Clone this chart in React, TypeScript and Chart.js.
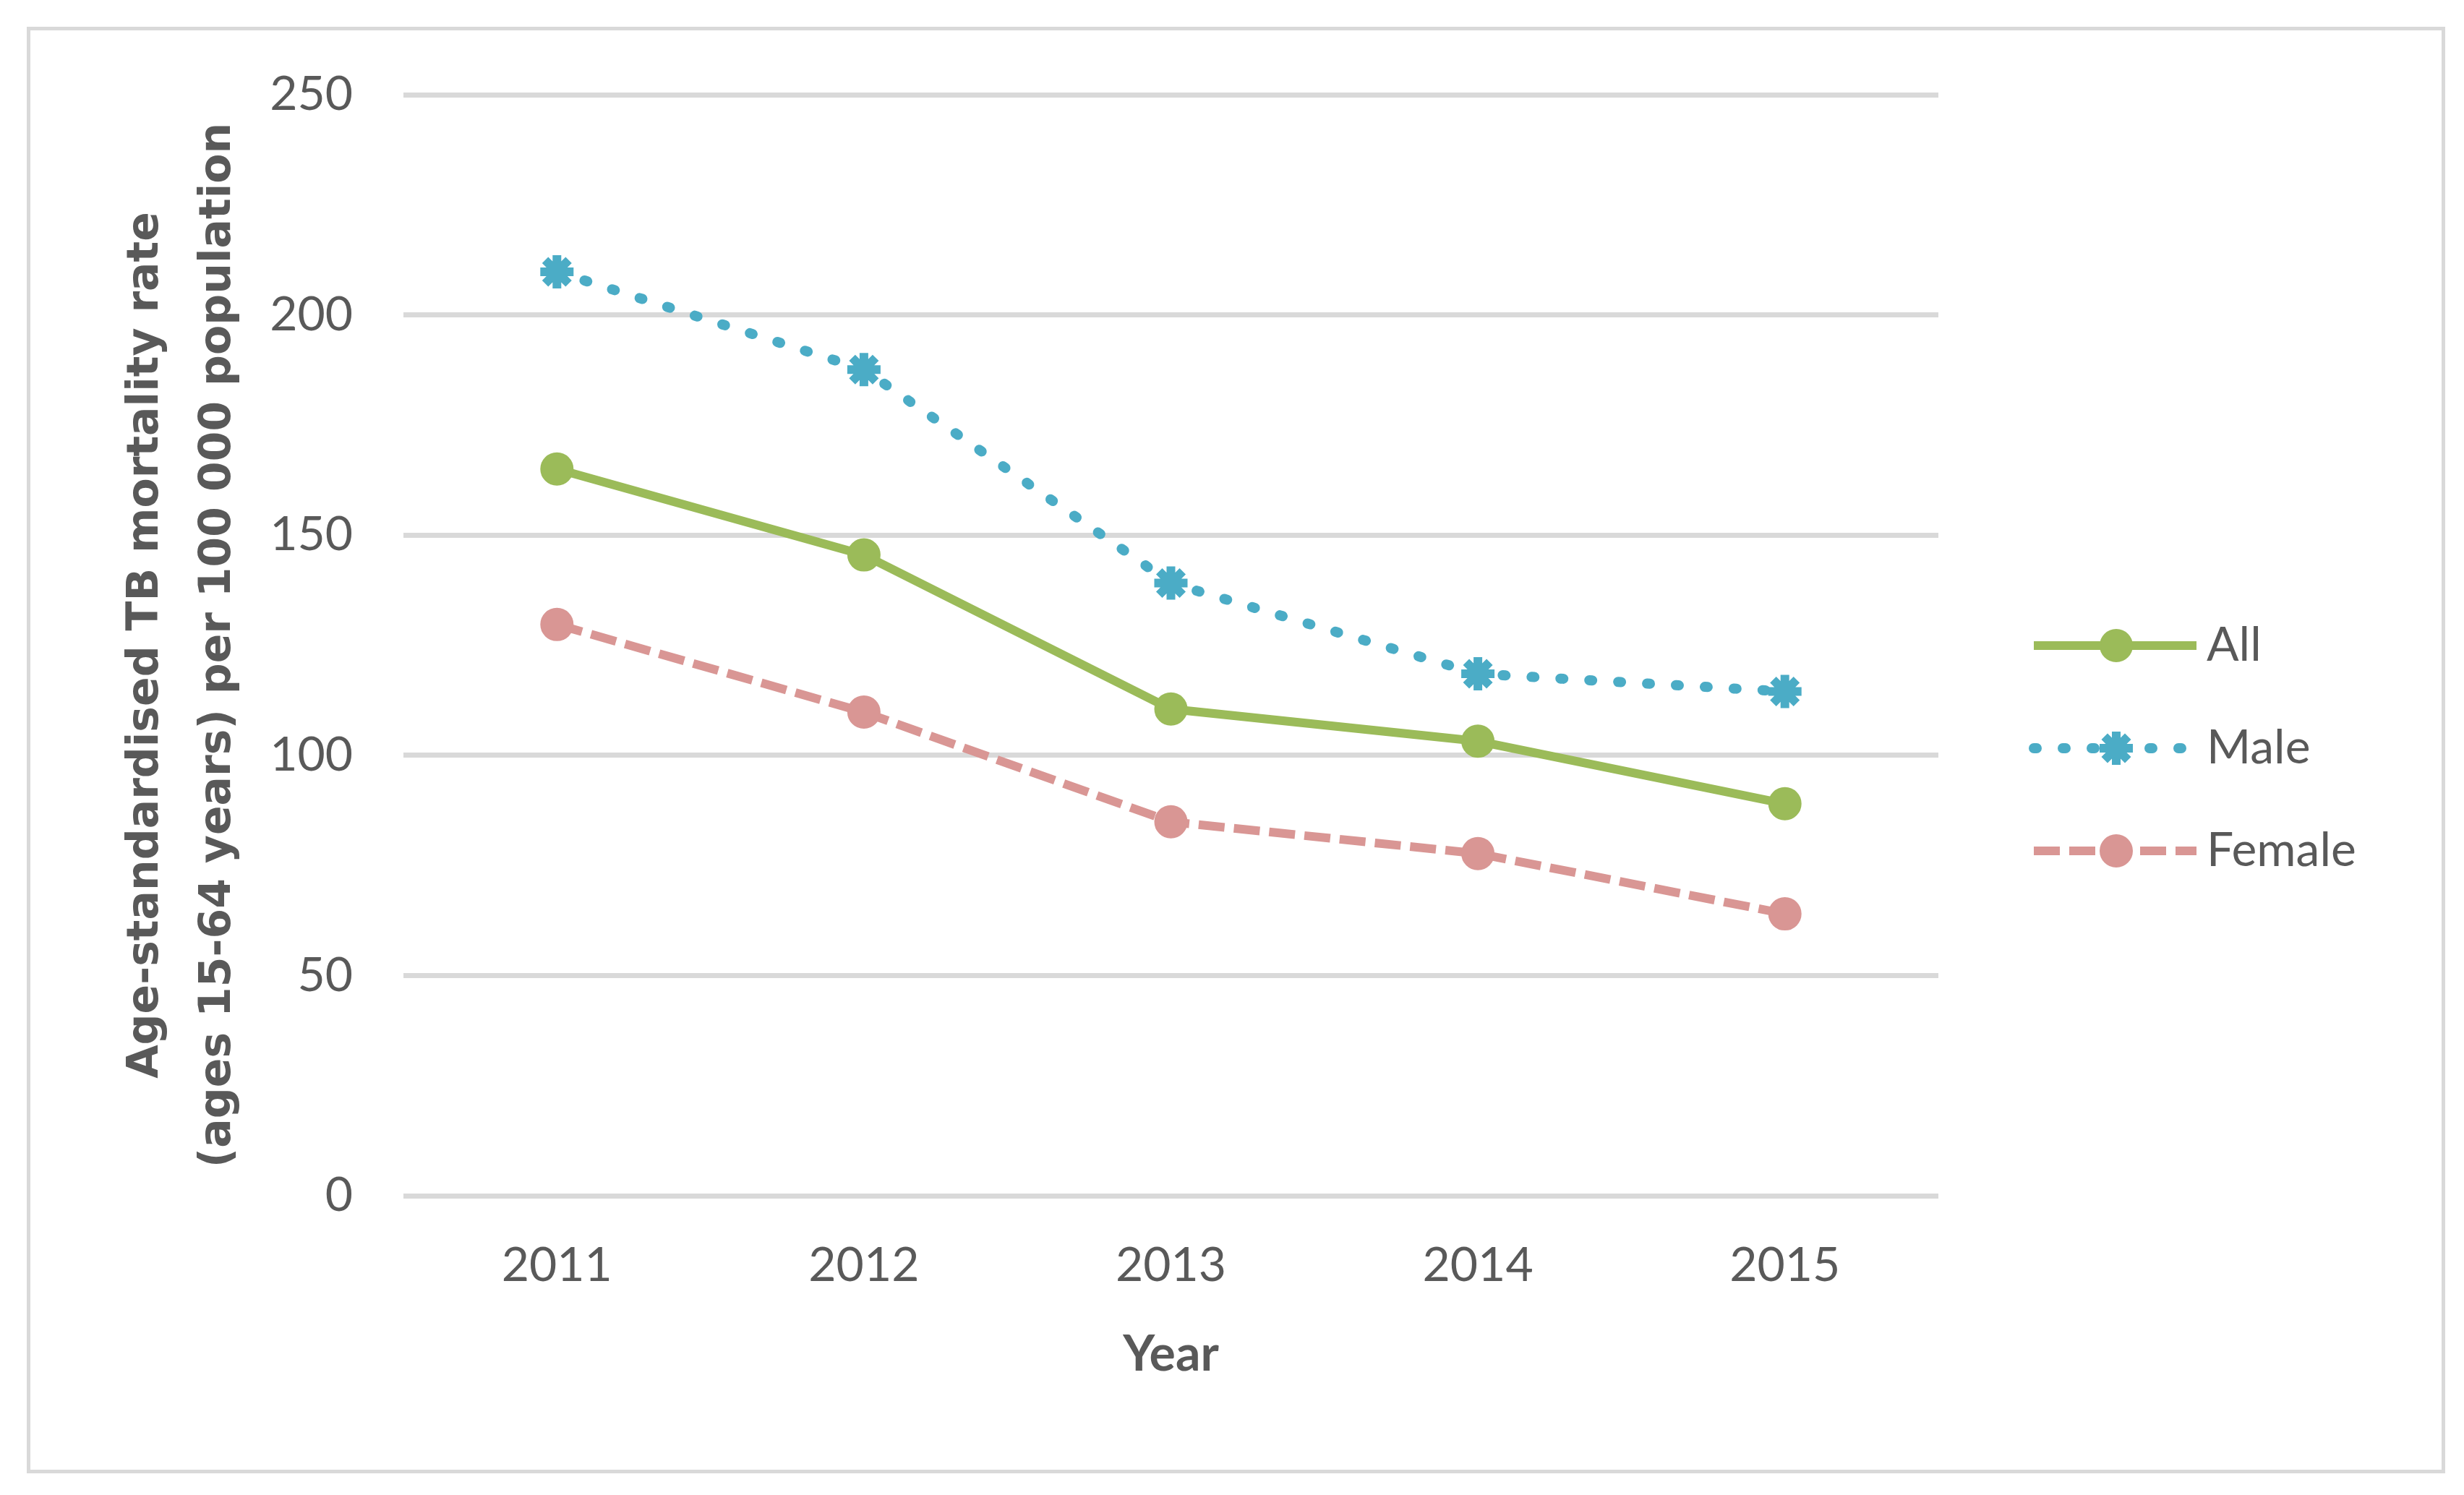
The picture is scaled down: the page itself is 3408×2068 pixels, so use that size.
import React, { useEffect, useRef } from 'react';
import { Chart, registerables } from 'chart.js';
import { drawPoint } from 'chart.js/helpers';

Chart.register(...registerables);

const categories = ['2011', '2012', '2013', '2014', '2015'];
const allValues = [165, 145.5, 110.5, 103.2, 89];
const maleValues = [209.8, 187.6, 139.1, 118.5, 114.5];
const femaleValues = [129.7, 109.8, 84.9, 77.7, 64];
const seriesNames = ['All', 'Male', 'Female'];
const seriesColors = ['#9BBB59', '#4BACC6', '#D99694'];
const yMin = 0;
const yMax = 250;
const yStep = 50;
const yTitle = ['Age-standardised TB mortality rate', '(ages 15-64 years) per 100 000 population'];
const xTitle = 'Year';

const TEXT = '#595959';
const GRID = '#D9D9D9';

const LEGEND_FONT = 66;
const LEGEND_PAD = 76;
const LEGEND_BOX = 262;
const PLOT_RIGHT_TARGET = 2681;

type SymOpts = {
  color: string;
  lineWidth: number;
  dash: number[];
  cap: CanvasLineCap;
  pointStyle: string;
  radius: number;
  pointBorder: number;
};

function legendSymbol(o: SymOpts): HTMLCanvasElement {
  const c = document.createElement('canvas');
  c.width = 300;
  c.height = 64;
  const ctx = c.getContext('2d') as CanvasRenderingContext2D;
  ctx.strokeStyle = o.color;
  ctx.fillStyle = o.color;
  ctx.lineWidth = o.lineWidth;
  ctx.lineCap = o.cap;
  ctx.setLineDash(o.dash);
  ctx.beginPath();
  ctx.moveTo(75, 32);
  ctx.lineTo(300, 32);
  ctx.stroke();
  ctx.setLineDash([]);
  ctx.lineCap = 'butt';
  ctx.lineWidth = o.pointBorder;
  drawPoint(ctx, { pointStyle: o.pointStyle as any, radius: o.radius, borderWidth: o.pointBorder, rotation: 0 } as any, 189, 32);
  return c;
}

export default function App() {
  const ref = useRef<HTMLCanvasElement | null>(null);

  useEffect(() => {
    if (!ref.current) return;
    const styles: SymOpts[] = [
      { color: seriesColors[0], lineWidth: 12, dash: [], cap: 'butt', pointStyle: 'circle', radius: 22, pointBorder: 2 },
      { color: seriesColors[1], lineWidth: 14, dash: [4, 36], cap: 'round', pointStyle: 'star', radius: 23, pointBorder: 12 },
      { color: seriesColors[2], lineWidth: 12, dash: [36, 13], cap: 'butt', pointStyle: 'circle', radius: 22, pointBorder: 2 },
    ];
    const symbols = styles.map(legendSymbol);
    const values = [allValues, maleValues, femaleValues];

    // measure legend width so the plot area ends where the reference's does
    const mctx = document.createElement('canvas').getContext('2d') as CanvasRenderingContext2D;
    mctx.font = `normal ${LEGEND_FONT}px Lato`;
    const widest = Math.max(...seriesNames.map((s) => mctx.measureText(s).width));
    const legendWidth = LEGEND_PAD + LEGEND_BOX + LEGEND_FONT / 2 + widest + 10;
    const padRight = Math.max(0, 3408 - PLOT_RIGHT_TARGET - legendWidth);

    const chart = new Chart(ref.current, {
      type: 'line',
      data: {
        labels: categories,
        datasets: values.map((v, i) => ({
          label: seriesNames[i],
          data: v,
          borderColor: styles[i].color,
          backgroundColor: styles[i].color,
          borderWidth: styles[i].lineWidth,
          borderDash: styles[i].dash,
          borderCapStyle: styles[i].cap,
          pointStyle: styles[i].pointStyle as any,
          pointRadius: styles[i].radius,
          pointBorderWidth: styles[i].pointBorder,
          pointBackgroundColor: styles[i].color,
          pointBorderColor: styles[i].color,
          tension: 0,
          fill: false,
        })),
      },
      options: {
        responsive: false,
        animation: false,
        devicePixelRatio: 1,
        events: [],
        layout: { padding: { top: 131, bottom: 114, left: 100, right: padRight } },
        plugins: {
          tooltip: { enabled: false },
          legend: {
            position: 'right',
            align: 'start',
            title: { display: true, text: '', padding: { top: 643, bottom: 0 }, font: { size: 10, lineHeight: 1 } },
            labels: {
              usePointStyle: true,
              pointStyleWidth: LEGEND_BOX,
              padding: LEGEND_PAD,
              color: TEXT,
              font: { family: 'Lato', size: LEGEND_FONT },
              generateLabels: (ch: any) =>
                ch.data.datasets.map((ds: any, i: number) => ({
                  text: ds.label,
                  pointStyle: symbols[i],
                  fillStyle: ds.borderColor,
                  strokeStyle: ds.borderColor,
                  lineWidth: 0,
                  hidden: false,
                  datasetIndex: i,
                  fontColor: TEXT,
                })),
            },
          },
        },
        scales: {
          x: {
            type: 'category',
            offset: true,
            grid: { display: false },
            border: { display: false },
            ticks: { padding: 49, color: TEXT, font: { family: 'Lato', size: 66 }, maxRotation: 0, autoSkip: false },
            title: {
              display: true,
              text: xTitle,
              color: TEXT,
              font: { family: 'Lato', size: 68, weight: 'bold', lineHeight: 1.2 },
              padding: { top: 0, bottom: 39 },
            },
            afterFit: (s: any) => {
              s.height = 300;
            },
          },
          y: {
            min: yMin,
            max: yMax,
            grid: { color: GRID, lineWidth: 7, drawTicks: false },
            border: { display: false },
            ticks: { stepSize: yStep, padding: 70, color: TEXT, font: { family: 'Lato', size: 66 } },
            title: {
              display: true,
              text: yTitle,
              color: TEXT,
              font: { family: 'DejaVu Sans', size: 60, weight: 'bold', lineHeight: 1.667 },
              padding: { top: 52, bottom: 0 },
            },
            afterFit: (s: any) => {
              s.width = 458;
            },
          },
        },
      } as any,
    });
    return () => chart.destroy();
  }, []);

  return (
    <div style={{ position: 'fixed', left: 0, top: 0, width: 3408, height: 2068, background: '#fff' }}>
      <div
        style={{
          position: 'absolute',
          left: 37,
          top: 37,
          width: 3345,
          height: 2001,
          boxSizing: 'border-box',
          border: '5px solid #D9D9D9',
        }}
      />
      <canvas ref={ref} width={3408} height={2068} style={{ position: 'absolute', left: 0, top: 0, width: 3408, height: 2068 }} />
    </div>
  );
}
